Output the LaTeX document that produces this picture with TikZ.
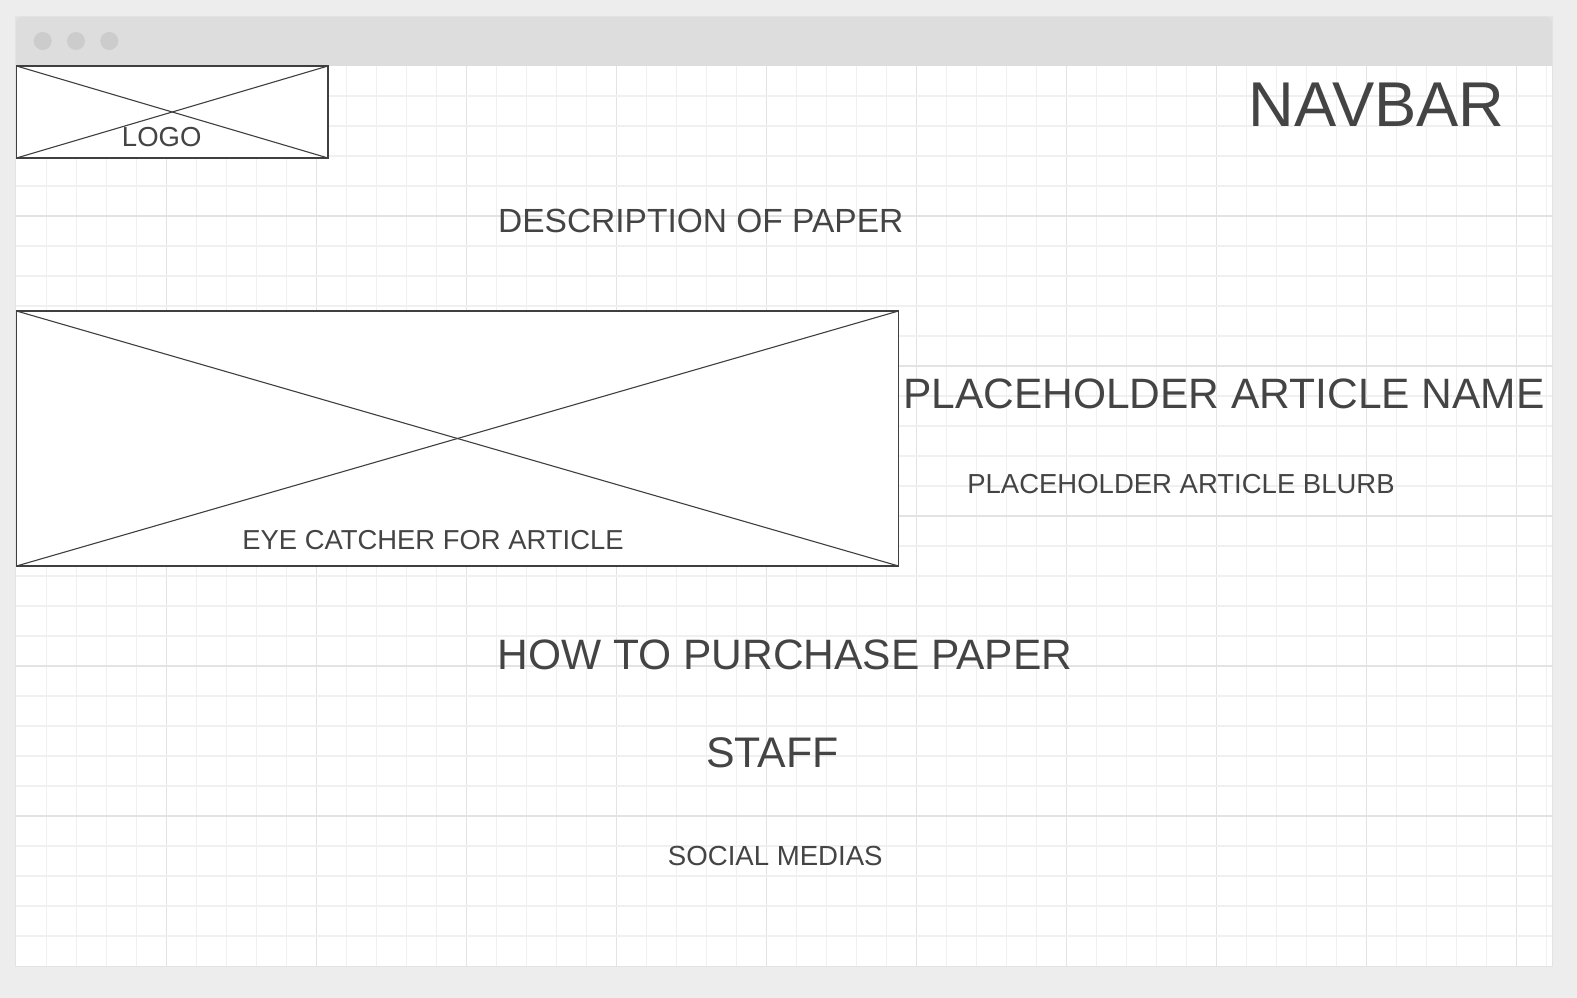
\documentclass[tikz,border=0pt]{standalone}
\usepackage{fontspec}
\setmainfont{Liberation Sans}
\definecolor{pagebg}{HTML}{EDEDED}
\definecolor{barbg}{HTML}{DDDDDD}
\definecolor{dotc}{HTML}{CCCCCC}
\definecolor{gridminor}{HTML}{F0F0F0}
\definecolor{gridmajor}{HTML}{E3E3E3}
\definecolor{inkc}{HTML}{444444}
\definecolor{linec}{HTML}{3F3F3F}
\newcommand{\fsz}[1]{\fontsize{#1}{#1}\selectfont}
\tikzset{
  imgbox/.style={draw=linec, line width=1.1pt, fill=white, rectangle, inner sep=0pt, outer sep=0pt},
  crossline/.style={draw=linec, line width=1.1pt},
  lbl/.style={text=inkc, anchor=base, inner sep=0pt, outer sep=0pt},
  dotstyle/.style={fill=dotc, draw=none, circle, minimum size=18pt, inner sep=0pt}
}
\begin{document}
\begin{tikzpicture}[x=1pt,y=-1pt]
\fill[pagebg] (0,0) rectangle (1577,998);
\useasboundingbox (0,0) rectangle (1577,998);
% window
\fill[pagebg!85!black, opacity=0.25] (15,16) rectangle (1553,967);
\fill[barbg, rounded corners=5pt] (16,17) rectangle (1552,80);
\fill[white] (16,66) rectangle (1552,966);
\node[dotstyle] (d1) at (42.7,41) {};
\node[dotstyle] (d2) at (76,41) {};
\node[dotstyle] (d3) at (109.3,41) {};
% grid
\foreach \k in {1,...,51}{
  \pgfmathsetmacro{\xx}{16.7+30*\k}
  \pgfmathtruncatemacro{\m}{mod(\k,5)}
  \ifnum\m=0
    \draw[gridmajor, line width=1.1pt] (\xx,66) -- (\xx,966);
  \else
    \draw[gridminor, line width=1.1pt] (\xx,66) -- (\xx,966);
  \fi
}
\foreach \k in {1,...,29}{
  \pgfmathsetmacro{\yy}{66+30*\k}
  \pgfmathtruncatemacro{\m}{mod(\k,5)}
  \ifnum\m=0
    \draw[gridmajor, line width=1.1pt] (16,\yy) -- (1552,\yy);
  \else
    \draw[gridminor, line width=1.1pt] (16,\yy) -- (1552,\yy);
  \fi
}
% image placeholders
\node[imgbox, minimum width=311.5pt, minimum height=92pt] (logo) at (172.25,112) {};
\draw[crossline] (logo.north west) -- (logo.south east);
\draw[crossline] (logo.south west) -- (logo.north east);
\node[imgbox, minimum width=882pt, minimum height=255pt] (eye) at (457.5,438.5) {};
\draw[crossline] (eye.north west) -- (eye.south east);
\draw[crossline] (eye.south west) -- (eye.north east);
% texts
\node[lbl, font=\fsz{27.5}] (logot) at (161.7,146.7) {LOGO};
\node[lbl, font=\fsz{63.3}] (navbar) at (1376.7,126.7) {NAVBAR};
\node[lbl, font=\fsz{33.5}] (desc) at (700.7,232.3) {DESCRIPTION OF PAPER};
\node[lbl, font=\fsz{42.5}] (aname) at (1224,408.5) {PLACEHOLDER ARTICLE NAME};
\node[lbl, font=\fsz{27.5}] (blurb) at (1181,493.5) {PLACEHOLDER ARTICLE BLURB};
\node[lbl, font=\fsz{27.4}] (eyet) at (433,549.7) {EYE CATCHER FOR ARTICLE};
\node[lbl, font=\fsz{42.5}] (howto) at (785,669) {HOW TO PURCHASE PAPER};
\node[lbl, font=\fsz{42.8}] (staff) at (772.5,767) {STAFF};
\node[lbl, font=\fsz{27.6}] (social) at (775.3,865) {SOCIAL MEDIAS};
\end{tikzpicture}
\end{document}
